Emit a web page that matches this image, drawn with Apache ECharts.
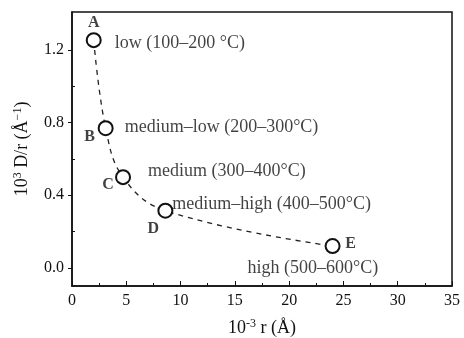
<!DOCTYPE html>
<html>
<head>
<meta charset="utf-8">
<script src="https://cdn.jsdelivr.net/npm/echarts@6/dist/echarts.min.js"></script>
<style>
  html, body { margin: 0; padding: 0; background: #fff; }
  #main { width: 464px; height: 338px; }
</style>
</head>
<body>
<div id="main"></div>
<script>
// data
const sizes = [2.0, 3.1, 4.7, 8.6, 24.0];          // 10^-3 r (Å)
const ratios = [1.255, 0.77, 0.50, 0.315, 0.12];   // 10^3 D/r
const letters = ['A', 'B', 'C', 'D', 'E'];
const ranges = ['low (100\u2013200 \u00b0C)', 'medium\u2013low (200\u2013300\u00b0C)', 'medium (300\u2013400\u00b0C)',
  'medium\u2013high (400\u2013500\u00b0C)', 'high (500\u2013600\u00b0C)'];
const yTicks = [0.0, 0.4, 0.8, 1.2];
const yMinorTicks = [0.2, 0.6, 1.0];

// label offsets in px (placement only)
const letterOffsets = [[0, -17], [-16, 9], [-15, 8], [-12, 18], [18, -2]];
const rangeOffsets = [[21, 3], [19, -1], [25, -6], [7, -6], [-85, 22]];

const serif = '"Liberation Serif", "DejaVu Serif", serif';
const ink = '#111';
const pts = sizes.map((x, i) => [x, ratios[i]]);

const nameStyle = {
  fontFamily: serif, fontSize: 18, color: ink,
  rich: { sup: { fontFamily: serif, fontSize: 12, color: ink, verticalAlign: 'top', padding: [0, 0, 8, 0] } }
};

const chart = echarts.init(document.getElementById('main'));
chart.setOption({
  animation: false,
  grid: { left: 72, right: 12, top: 12, bottom: 52, show: true, borderColor: ink, borderWidth: 1.5,
    backgroundColor: 'transparent', containLabel: false, outerBoundsMode: 'none' },
  xAxis: {
    type: 'value', min: 0, max: 35, interval: 5,
    name: '10{sup|-3} r (\u00c5)', nameLocation: 'middle', nameGap: 32,
    nameTextStyle: nameStyle,
    axisLine: { onZero: false, lineStyle: { color: ink, width: 1.5 } },
    axisTick: { inside: true, length: 5, lineStyle: { color: ink } },
    minorTick: { show: true, splitNumber: 2, length: 3, lineStyle: { color: ink } },
    axisLabel: { fontFamily: serif, fontSize: 16, color: ink, margin: 7 },
    splitLine: { show: false }
  },
  yAxis: [
    {
      type: 'value', min: -0.1, max: 1.41,
      name: '10{sup|3} D/r (\u00c5{sup|\u22121})', nameLocation: 'middle', nameGap: 40,
      nameTextStyle: nameStyle,
      axisLine: { onZero: false, lineStyle: { color: ink, width: 1.5 } },
      axisTick: { inside: false, length: 4, customValues: yTicks, lineStyle: { color: ink } },
      axisLabel: { fontFamily: serif, fontSize: 16, color: ink, margin: 8, customValues: yTicks,
        formatter: v => v.toFixed(1) },
      splitLine: { show: false }
    },
    {
      type: 'value', min: -0.1, max: 1.41, position: 'left',
      axisLine: { show: false },
      axisTick: { inside: true, length: 3, customValues: yMinorTicks, lineStyle: { color: ink } },
      axisLabel: { show: false },
      splitLine: { show: false }
    }
  ],
  series: [
    {
      type: 'line', data: pts, smooth: 0.4,
      symbol: 'emptyCircle', symbolSize: 14, showSymbol: true,
      itemStyle: { color: ink, borderWidth: 1 },
      lineStyle: { color: '#222', width: 1.3, type: [5, 5] },
      z: 3
    },
    {
      type: 'scatter', symbolSize: 0, silent: true,
      data: pts.map((p, i) => ({ value: p, label: { offset: letterOffsets[i] } })),
      label: { show: true, position: 'inside', fontFamily: serif, fontSize: 16, fontWeight: 'bold',
        color: ink, formatter: p => letters[p.dataIndex] }
    },
    {
      type: 'scatter', symbolSize: 0, silent: true,
      data: pts.map((p, i) => ({ value: p, label: { offset: rangeOffsets[i] } })),
      label: { show: true, position: 'inside', align: 'left', fontFamily: serif, fontSize: 18,
        color: ink, formatter: p => ranges[p.dataIndex] }
    }
  ]
});
</script>
</body>
</html>
